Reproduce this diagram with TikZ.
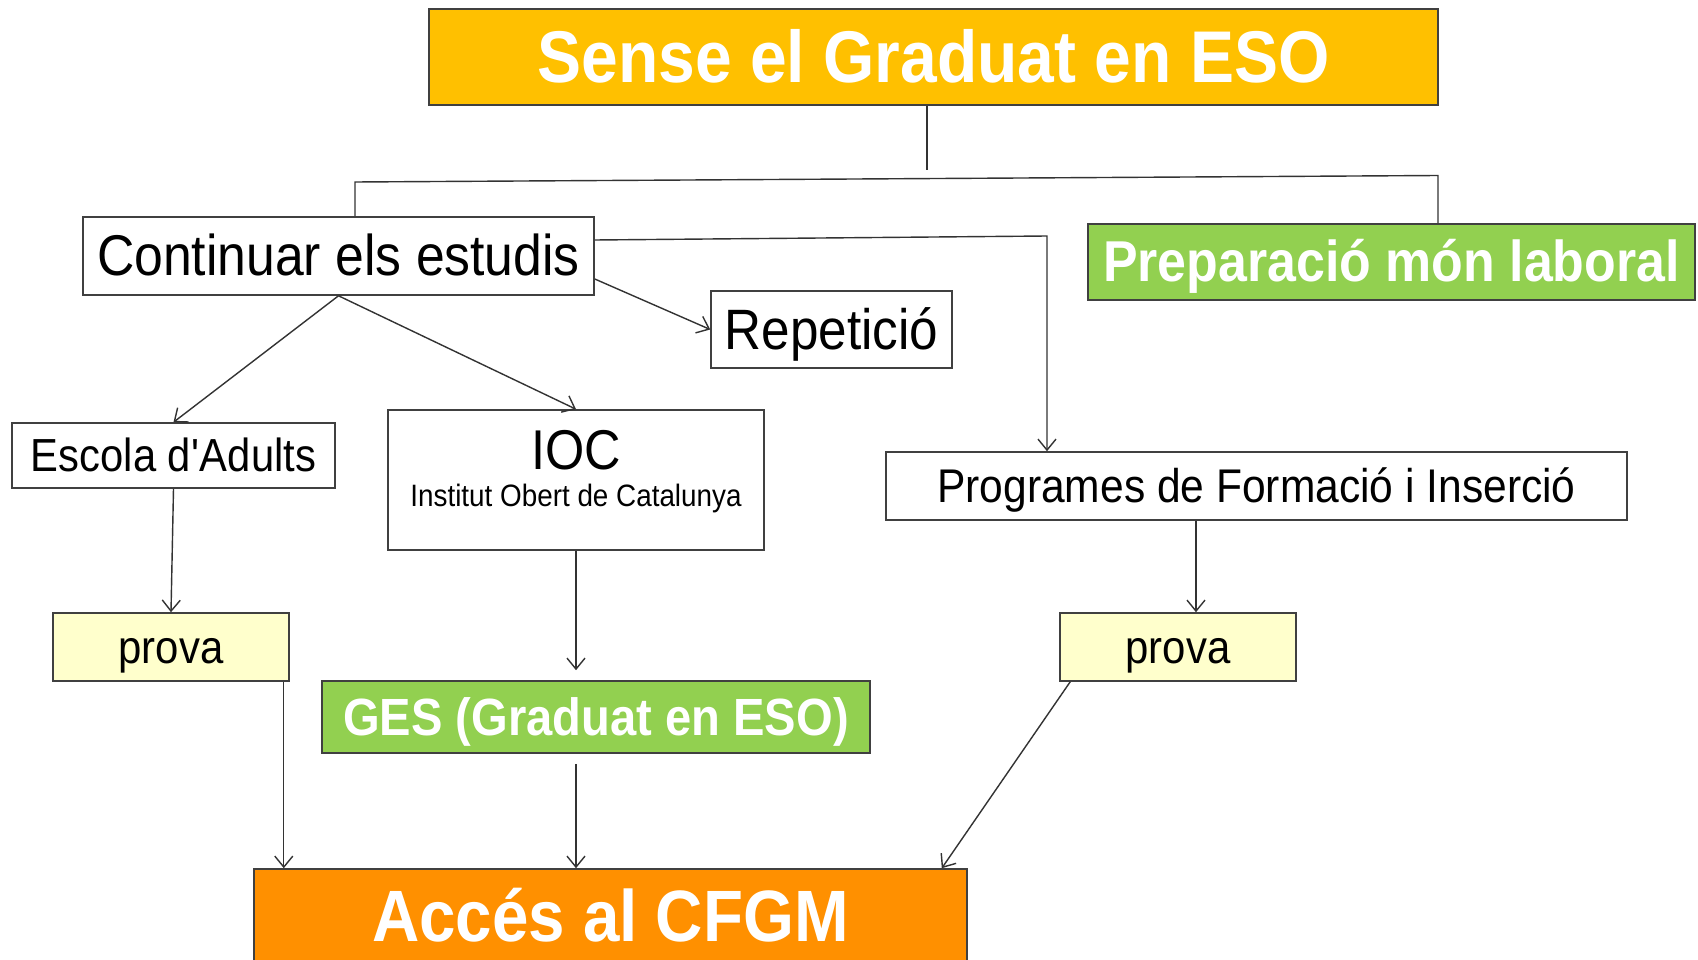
\documentclass[tikz,border=0pt]{standalone}
\usepackage{fontspec}
\setmainfont{Liberation Sans}[FakeStretch=0.9]
\usetikzlibrary{arrows.meta}

\definecolor{gold}{HTML}{FFC000}
\definecolor{leaf}{HTML}{92D050}
\definecolor{cream}{HTML}{FFFFCC}
\definecolor{tangerine}{HTML}{FF9000}

\tikzset{
  box/.style={draw=black!75, line width=0.9pt, fill=white, inner sep=0pt},
  head/.style={box, text=white},
  fsize/.style={font=\fontsize{#1}{#1}\selectfont, text height=0.905*#1pt, text depth=0.212*#1pt},
  link/.style={draw=black!80, line width=0.8pt},
}

\begin{document}
\begin{tikzpicture}[>={Straight Barb[length=2.2mm,width=3.6mm]}]
    \useasboundingbox (0,0) rectangle (33.96,-19.2);

    % top level
    \node[head, fill=gold, minimum width=20.18cm, minimum height=1.92cm, fsize=41.7] (top) at (18.67,-1.14) {\bfseries Sense el Graduat en ESO};

    % second level
    \node[box, minimum width=10.22cm, minimum height=1.56cm, fsize=32.7] (cont) at (6.77,-5.12) {Continuar els estudis};
    \node[head, fill=leaf, minimum width=12.14cm, minimum height=1.52cm, fsize=32.8] (prep) at (27.83,-5.24) {\bfseries Preparació món laboral};
    \node[box, minimum width=4.82cm, minimum height=1.54cm, fsize=32.4] (rep) at (16.63,-6.59) {Repetició};

    % ways
    \node[box, minimum width=6.46cm, minimum height=1.30cm, fsize=26.4] (esc) at (3.47,-9.11) {Escola d\textquotesingle Adults};
    \node[box, minimum width=7.52cm, minimum height=2.80cm] (ioc) at (11.52,-9.60) {};
    \node[align=center, inner sep=0pt, font=\fontsize{17.6}{21}\selectfont] (ioctext) at (11.52,-9.44) {{\fontsize{31.9}{21}\selectfont IOC}\\Institut Obert de Catalunya};
    \node[box, minimum width=14.82cm, minimum height=1.36cm, fsize=26.9] (prog) at (25.13,-9.72) {Programes de Formació i Inserció};

    % tests
    \node[box, fill=cream, minimum width=4.72cm, minimum height=1.36cm, fsize=26.5] (provaA) at (3.42,-12.94) {prova};
    \node[box, fill=cream, minimum width=4.72cm, minimum height=1.36cm, fsize=26.5] (provaB) at (23.56,-12.94) {prova};
    \node[head, fill=leaf, minimum width=10.96cm, minimum height=1.44cm, fsize=29.8] (ges) at (11.92,-14.34) {\bfseries GES (Graduat en ESO)};

    % goal
    \node[head, fill=tangerine, minimum width=14.26cm, minimum height=1.88cm, fsize=41.4] (acc) at (12.21,-18.32) {\bfseries Accés al CFGM};

    % branches
    \coordinate (split) at (18.54,-3.40);
    \coordinate (brl) at (7.10,-3.64);
    \coordinate (brr) at (28.76,-3.51);
    \coordinate (bend) at (20.94,-4.72);
    \draw[link] (top.south -| split) -- (split);
    \draw[link] (brl |- cont.north) -- (brl) -- (brr) -- (brr |- prep.north);

    % arrows
    \draw[link,->] ([yshift=-4.6mm]cont.east) -- (rep.west);
    \draw[link,->] ([yshift=3.2mm]cont.east) -- (bend) -- (bend |- prog.north);
    \draw[link,->] (cont.south) -- (esc.north);
    \draw[link,->] (cont.south) -- (ioc.north);
    \draw[link,->] (esc.south) -- (provaA.north);
    \draw[link,->] (ioc.south) -- ([yshift=2mm]ioc.south |- ges.north);
    \draw[link,->] ([xshift=3.6mm]provaB.north |- prog.south) -- ([xshift=3.6mm]provaB.north);
    \draw[link,->] ([xshift=-1.2mm]provaA.south east) -- ([xshift=-1.2mm]provaA.south east |- acc.north);
    \draw[link,->] ([yshift=-2mm]ioc.south |- ges.south) -- (ioc.south |- acc.north);
    \draw[link,->] ([xshift=2.2mm]provaB.south west) -- ([xshift=-5.2mm]acc.north east);
\end{tikzpicture}
\end{document}
